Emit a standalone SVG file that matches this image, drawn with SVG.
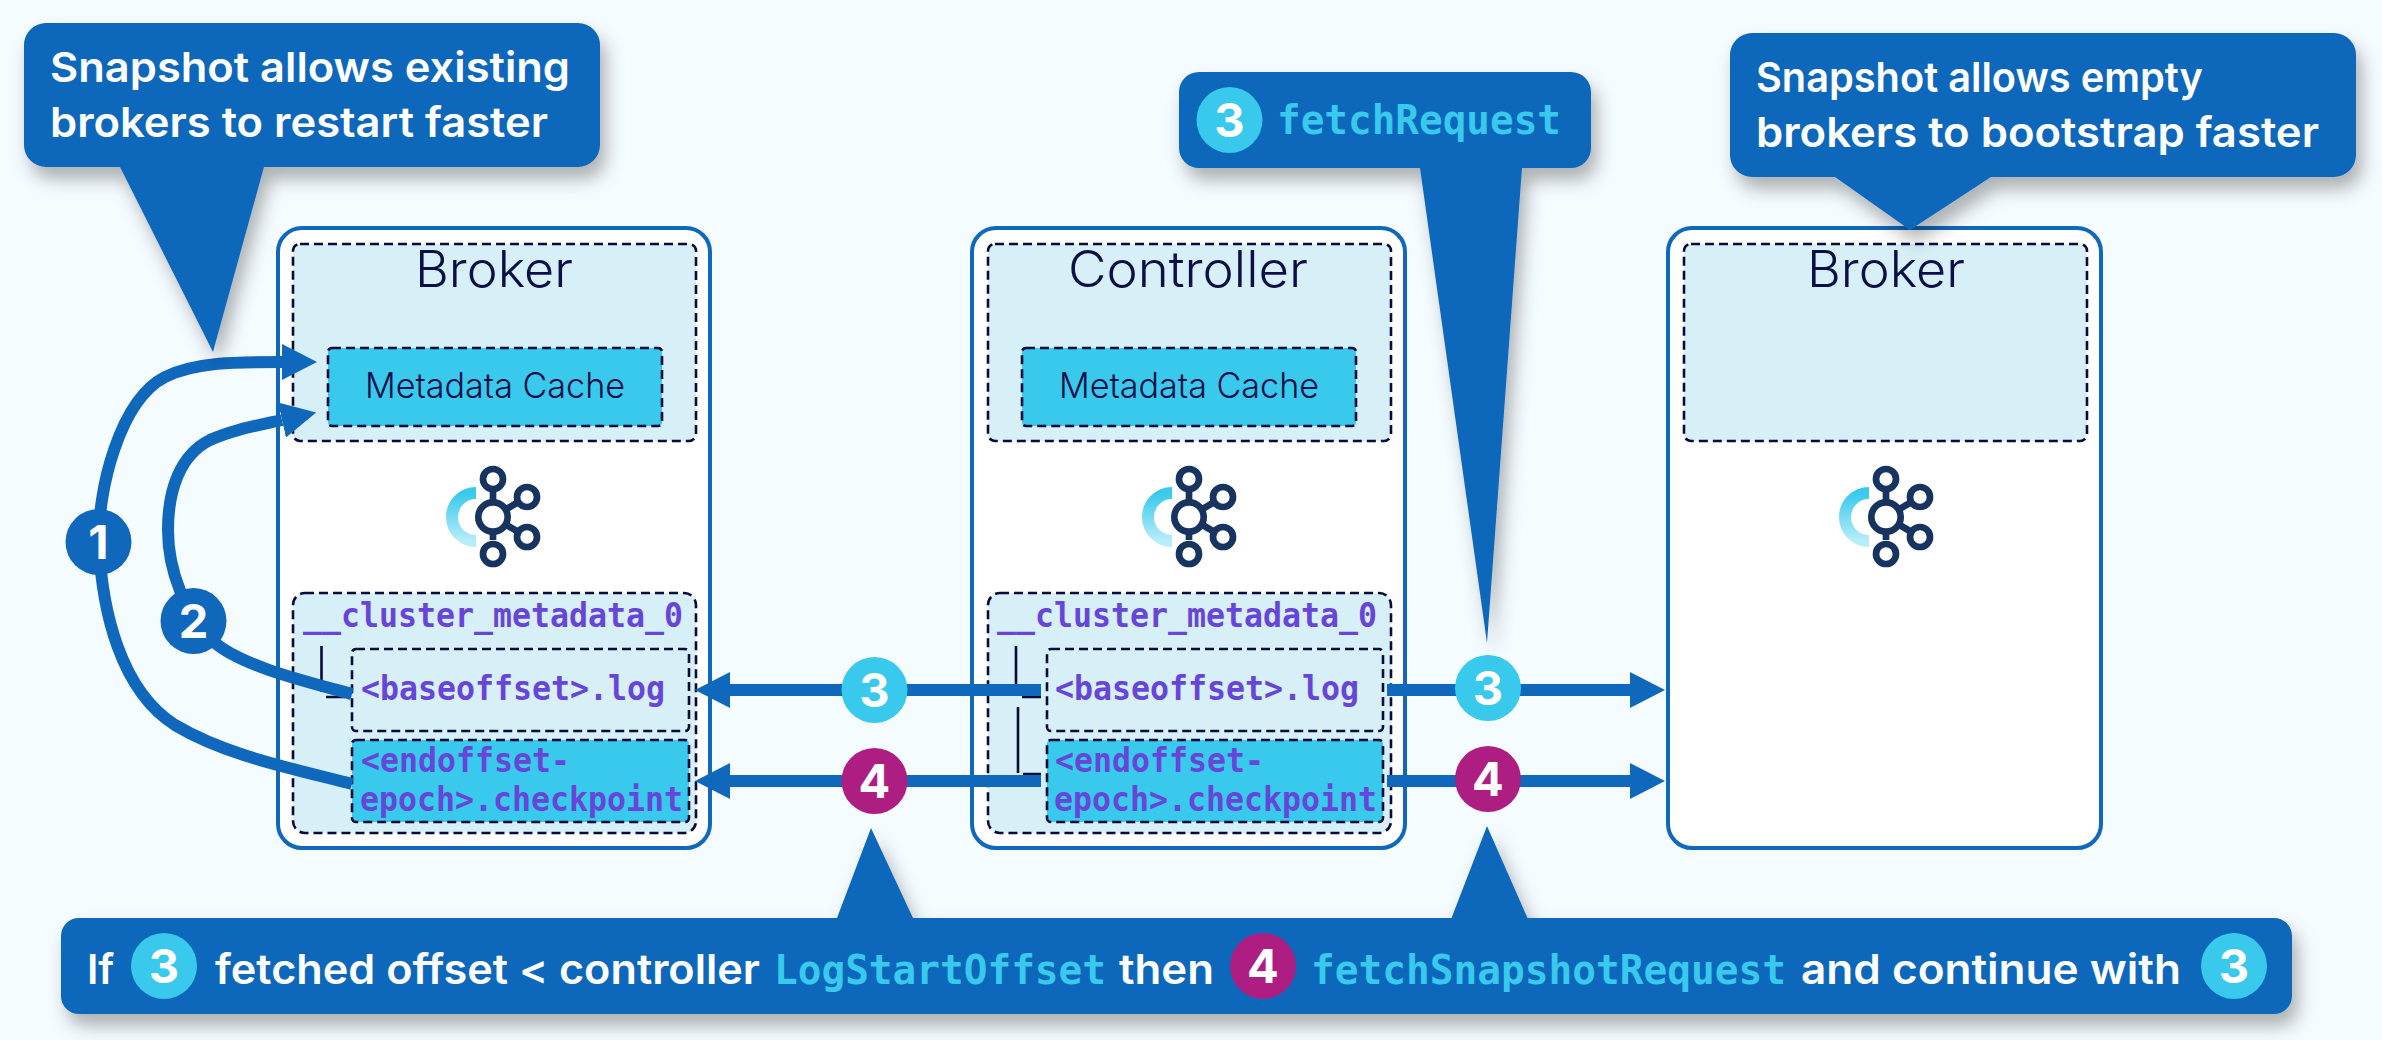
<svg xmlns="http://www.w3.org/2000/svg" width="2382" height="1040" viewBox="0 0 2382 1040">
<style>
.bg{fill:#f5fcff}
.box{fill:#fff;stroke:#1068bc;stroke-width:4}
.zone{fill:#d7eff7;stroke:#0b0b3b;stroke-width:2.6;stroke-dasharray:9 5}
.hot{fill:#38c9ec;stroke:#0b0b3b;stroke-width:2.6;stroke-dasharray:9 5}
.title{font:300 50px Inter,"Liberation Sans",sans-serif;fill:#0c0f47;text-anchor:middle}
.cache{font:300 35px Inter,"Liberation Sans",sans-serif;fill:#0c0f47;text-anchor:middle}
.mono{font:700 34px "DejaVu Sans Mono","Liberation Mono",monospace;fill:#6645d8}
.say{font:600 41px Inter,"Liberation Sans",sans-serif;fill:#fff}
.code{font:700 40px "DejaVu Sans Mono","Liberation Mono",monospace;fill:#38c9ec}
.bubble{fill:#1068bc;filter:url(#sh)}
.tree{stroke:#0b0b3b;stroke-width:2.6;fill:none}
.wire{fill:none;stroke:#1068bc;stroke-width:12}
.arrow{marker-end:url(#head)}
.c3{fill:#38c9ec}.c4{fill:#ae1e82}.cb{fill:#1068bc}
.num{font:700 47px Inter,"Liberation Sans",sans-serif;fill:#fff;text-anchor:middle}
.ln{stroke:#17335f;stroke-width:6.7;fill:none}
.ring{stroke:#17335f;stroke-width:6.7;fill:#fff}
</style>
<defs>
<filter id="sh" x="-20%" y="-20%" width="140%" height="150%"><feDropShadow dx="6" dy="12" stdDeviation="9" flood-color="#000" flood-opacity=".3"/></filter>
<marker id="head" markerUnits="userSpaceOnUse" markerWidth="36" markerHeight="36" refX="0" refY="18" orient="auto"><path d="M0 0L35 18L0 36Z" fill="#1068bc"/></marker>
<linearGradient id="arc" x1="0" y1="0" x2="0" y2="1"><stop offset="0" stop-color="#38c9ec"/><stop offset="1" stop-color="#b7edf9"/></linearGradient>
<g id="logo">
<path d="M476 493A24 24 0 0 0 476 541" fill="none" stroke="url(#arc)" stroke-width="12"/>
<path class="ln" d="M493 489V540M493 517L527 497M493 517L527 537"/>
<circle class="ring" cx="493" cy="479" r="10"/>
<circle class="ring" cx="493" cy="554" r="10"/>
<circle class="ring" cx="527" cy="497" r="10"/>
<circle class="ring" cx="527" cy="537" r="10"/>
<circle class="ring" cx="493" cy="517" r="14.7"/>
</g>
</defs>
<rect class="bg" width="2382" height="1040"/>

<g id="broker-a">
<rect class="box" x="278" y="228" width="432" height="620" rx="24"/>
<rect class="zone" x="293" y="244" width="403" height="197" rx="7"/>
<text class="title" x="494" y="287" textLength="158" lengthAdjust="spacingAndGlyphs">Broker</text>
<rect class="hot" x="328" y="348" width="334" height="78" rx="4"/>
<text class="cache" x="495" y="398" textLength="260" lengthAdjust="spacingAndGlyphs">Metadata Cache</text>
<use href="#logo"/>
<rect class="zone" x="293" y="593" width="403" height="240" rx="12"/>
<text class="mono" x="303" y="627" textLength="380" lengthAdjust="spacingAndGlyphs">__cluster_metadata_0</text>
<path class="tree" d="M321.500 646V692M326 697H345"/>
<rect class="zone" x="352" y="649" width="337" height="82" rx="4"/>
<text class="mono" x="361" y="700" textLength="304" lengthAdjust="spacingAndGlyphs">&lt;baseoffset&gt;.log</text>
<rect class="hot" x="352" y="740" width="337" height="82" rx="4"/>
<text class="mono" x="361" y="772" textLength="209" lengthAdjust="spacingAndGlyphs">&lt;endoffset-</text>
<text class="mono" x="360" y="811" textLength="323" lengthAdjust="spacingAndGlyphs">epoch&gt;.checkpoint</text>
</g>

<g id="controller">
<rect class="box" x="972" y="228" width="433" height="620" rx="24"/>
<rect class="zone" x="988" y="244" width="403" height="197" rx="7"/>
<text class="title" x="1188" y="287" textLength="240" lengthAdjust="spacingAndGlyphs">Controller</text>
<rect class="hot" x="1022" y="348" width="334" height="78" rx="4"/>
<text class="cache" x="1189" y="398" textLength="260" lengthAdjust="spacingAndGlyphs">Metadata Cache</text>
<use href="#logo" x="696"/>
<rect class="zone" x="988" y="593" width="403" height="240" rx="12"/>
<text class="mono" x="997" y="627" textLength="380" lengthAdjust="spacingAndGlyphs">__cluster_metadata_0</text>
<path class="tree" d="M1016 646V692M1022 697H1041M1018 707V773M1023 774H1041"/>
<rect class="zone" x="1047" y="649" width="336" height="82" rx="4"/>
<text class="mono" x="1055" y="700" textLength="304" lengthAdjust="spacingAndGlyphs">&lt;baseoffset&gt;.log</text>
<rect class="hot" x="1047" y="740" width="336" height="82" rx="4"/>
<text class="mono" x="1055" y="772" textLength="209" lengthAdjust="spacingAndGlyphs">&lt;endoffset-</text>
<text class="mono" x="1054" y="811" textLength="323" lengthAdjust="spacingAndGlyphs">epoch&gt;.checkpoint</text>
</g>

<g id="broker-b">
<rect class="box" x="1668" y="228" width="433" height="620" rx="24"/>
<rect class="zone" x="1684" y="244" width="403" height="197" rx="7"/>
<text class="title" x="1886" y="287" textLength="158" lengthAdjust="spacingAndGlyphs">Broker</text>
<use href="#logo" x="1393"/>
</g>

<g id="connectors">
<path class="wire arrow" d="M352 784C290 768 225 755 175 725C120 690 102 610 99 545C97 490 120 400 165 377C195 362 235 362 282 362"/>
<path class="wire arrow" d="M352 694C300 680 240 665 214 642C185 615 168 570 168 530C168 490 180 455 210 440C232 430 255 426 282 420"/>
<path class="wire arrow" d="M1041 690H730"/>
<path class="wire arrow" d="M1041 781H730"/>
<path class="wire arrow" d="M1387 690H1630"/>
<path class="wire arrow" d="M1387 781H1630"/>
</g>

<g id="step-1"><circle class="cb" cx="98.500" cy="542" r="33"/><text class="num" x="98.500" y="559">1</text></g>
<g id="step-2"><circle class="cb" cx="193.500" cy="621" r="33"/><text class="num" x="193.500" y="638">2</text></g>
<g id="step-3-left"><circle class="c3" cx="874.500" cy="690" r="33"/><text class="num" x="874.500" y="707">3</text></g>
<g id="step-4-left"><circle class="c4" cx="874.500" cy="781" r="33"/><text class="num" x="874.500" y="798">4</text></g>
<g id="step-3-right"><circle class="c3" cx="1488" cy="688" r="33"/><text class="num" x="1488" y="705">3</text></g>
<g id="step-4-right"><circle class="c4" cx="1488" cy="779" r="33"/><text class="num" x="1488" y="796">4</text></g>

<g id="note-existing">
<path class="bubble" d="M46 23H578A22 22 0 0 1 600 45V145A22 22 0 0 1 578 167H264L213 352L120 167H46A22 22 0 0 1 24 145V45A22 22 0 0 1 46 23Z"/>
<text class="say" x="50" y="82" textLength="520" lengthAdjust="spacingAndGlyphs">Snapshot allows existing</text>
<text class="say" x="50" y="137" textLength="498" lengthAdjust="spacingAndGlyphs">brokers to restart faster</text>
</g>

<g id="note-fetch">
<path class="bubble" d="M1199 72H1571A20 20 0 0 1 1591 92V148A20 20 0 0 1 1571 168H1522L1487 643L1420 168H1199A20 20 0 0 1 1179 148V92A20 20 0 0 1 1199 72Z"/>
<circle class="c3" cx="1229.500" cy="120" r="33"/><text class="num" x="1229.500" y="137">3</text>
<text class="code" x="1277" y="134" textLength="284" lengthAdjust="spacingAndGlyphs">fetchRequest</text>
</g>

<g id="note-empty">
<path class="bubble" d="M1752 33H2334A22 22 0 0 1 2356 55V155A22 22 0 0 1 2334 177H1991L1910 230L1835 177H1752A22 22 0 0 1 1730 155V55A22 22 0 0 1 1752 33Z"/>
<text class="say" x="1756" y="92" textLength="447" lengthAdjust="spacingAndGlyphs">Snapshot allows empty</text>
<text class="say" x="1756" y="147" textLength="563" lengthAdjust="spacingAndGlyphs">brokers to bootstrap faster</text>
</g>

<g id="note-bottom">
<path class="bubble" d="M79 918H837L871 828L913 918H1451.500L1487 826L1527.500 918H2274A18 18 0 0 1 2292 936V996A18 18 0 0 1 2274 1014H79A18 18 0 0 1 61 996V936A18 18 0 0 1 79 918Z"/>
<text class="say" x="87" y="984">If</text>
<circle class="c3" cx="164" cy="966" r="33"/><text class="num" x="164" y="983">3</text>
<text class="say" x="215" y="984" textLength="545" lengthAdjust="spacingAndGlyphs">fetched offset &lt; controller</text>
<text class="code" x="774" y="984" textLength="332" lengthAdjust="spacingAndGlyphs">LogStartOffset</text>
<text class="say" x="1119" y="984" textLength="95" lengthAdjust="spacingAndGlyphs">then</text>
<circle class="c4" cx="1263" cy="966" r="33"/><text class="num" x="1263" y="983">4</text>
<text class="code" x="1311" y="984" textLength="475" lengthAdjust="spacingAndGlyphs">fetchSnapshotRequest</text>
<text class="say" x="1801" y="984" textLength="380" lengthAdjust="spacingAndGlyphs">and continue with</text>
<circle class="c3" cx="2234" cy="966" r="33"/><text class="num" x="2234" y="983">3</text>
</g>
</svg>
